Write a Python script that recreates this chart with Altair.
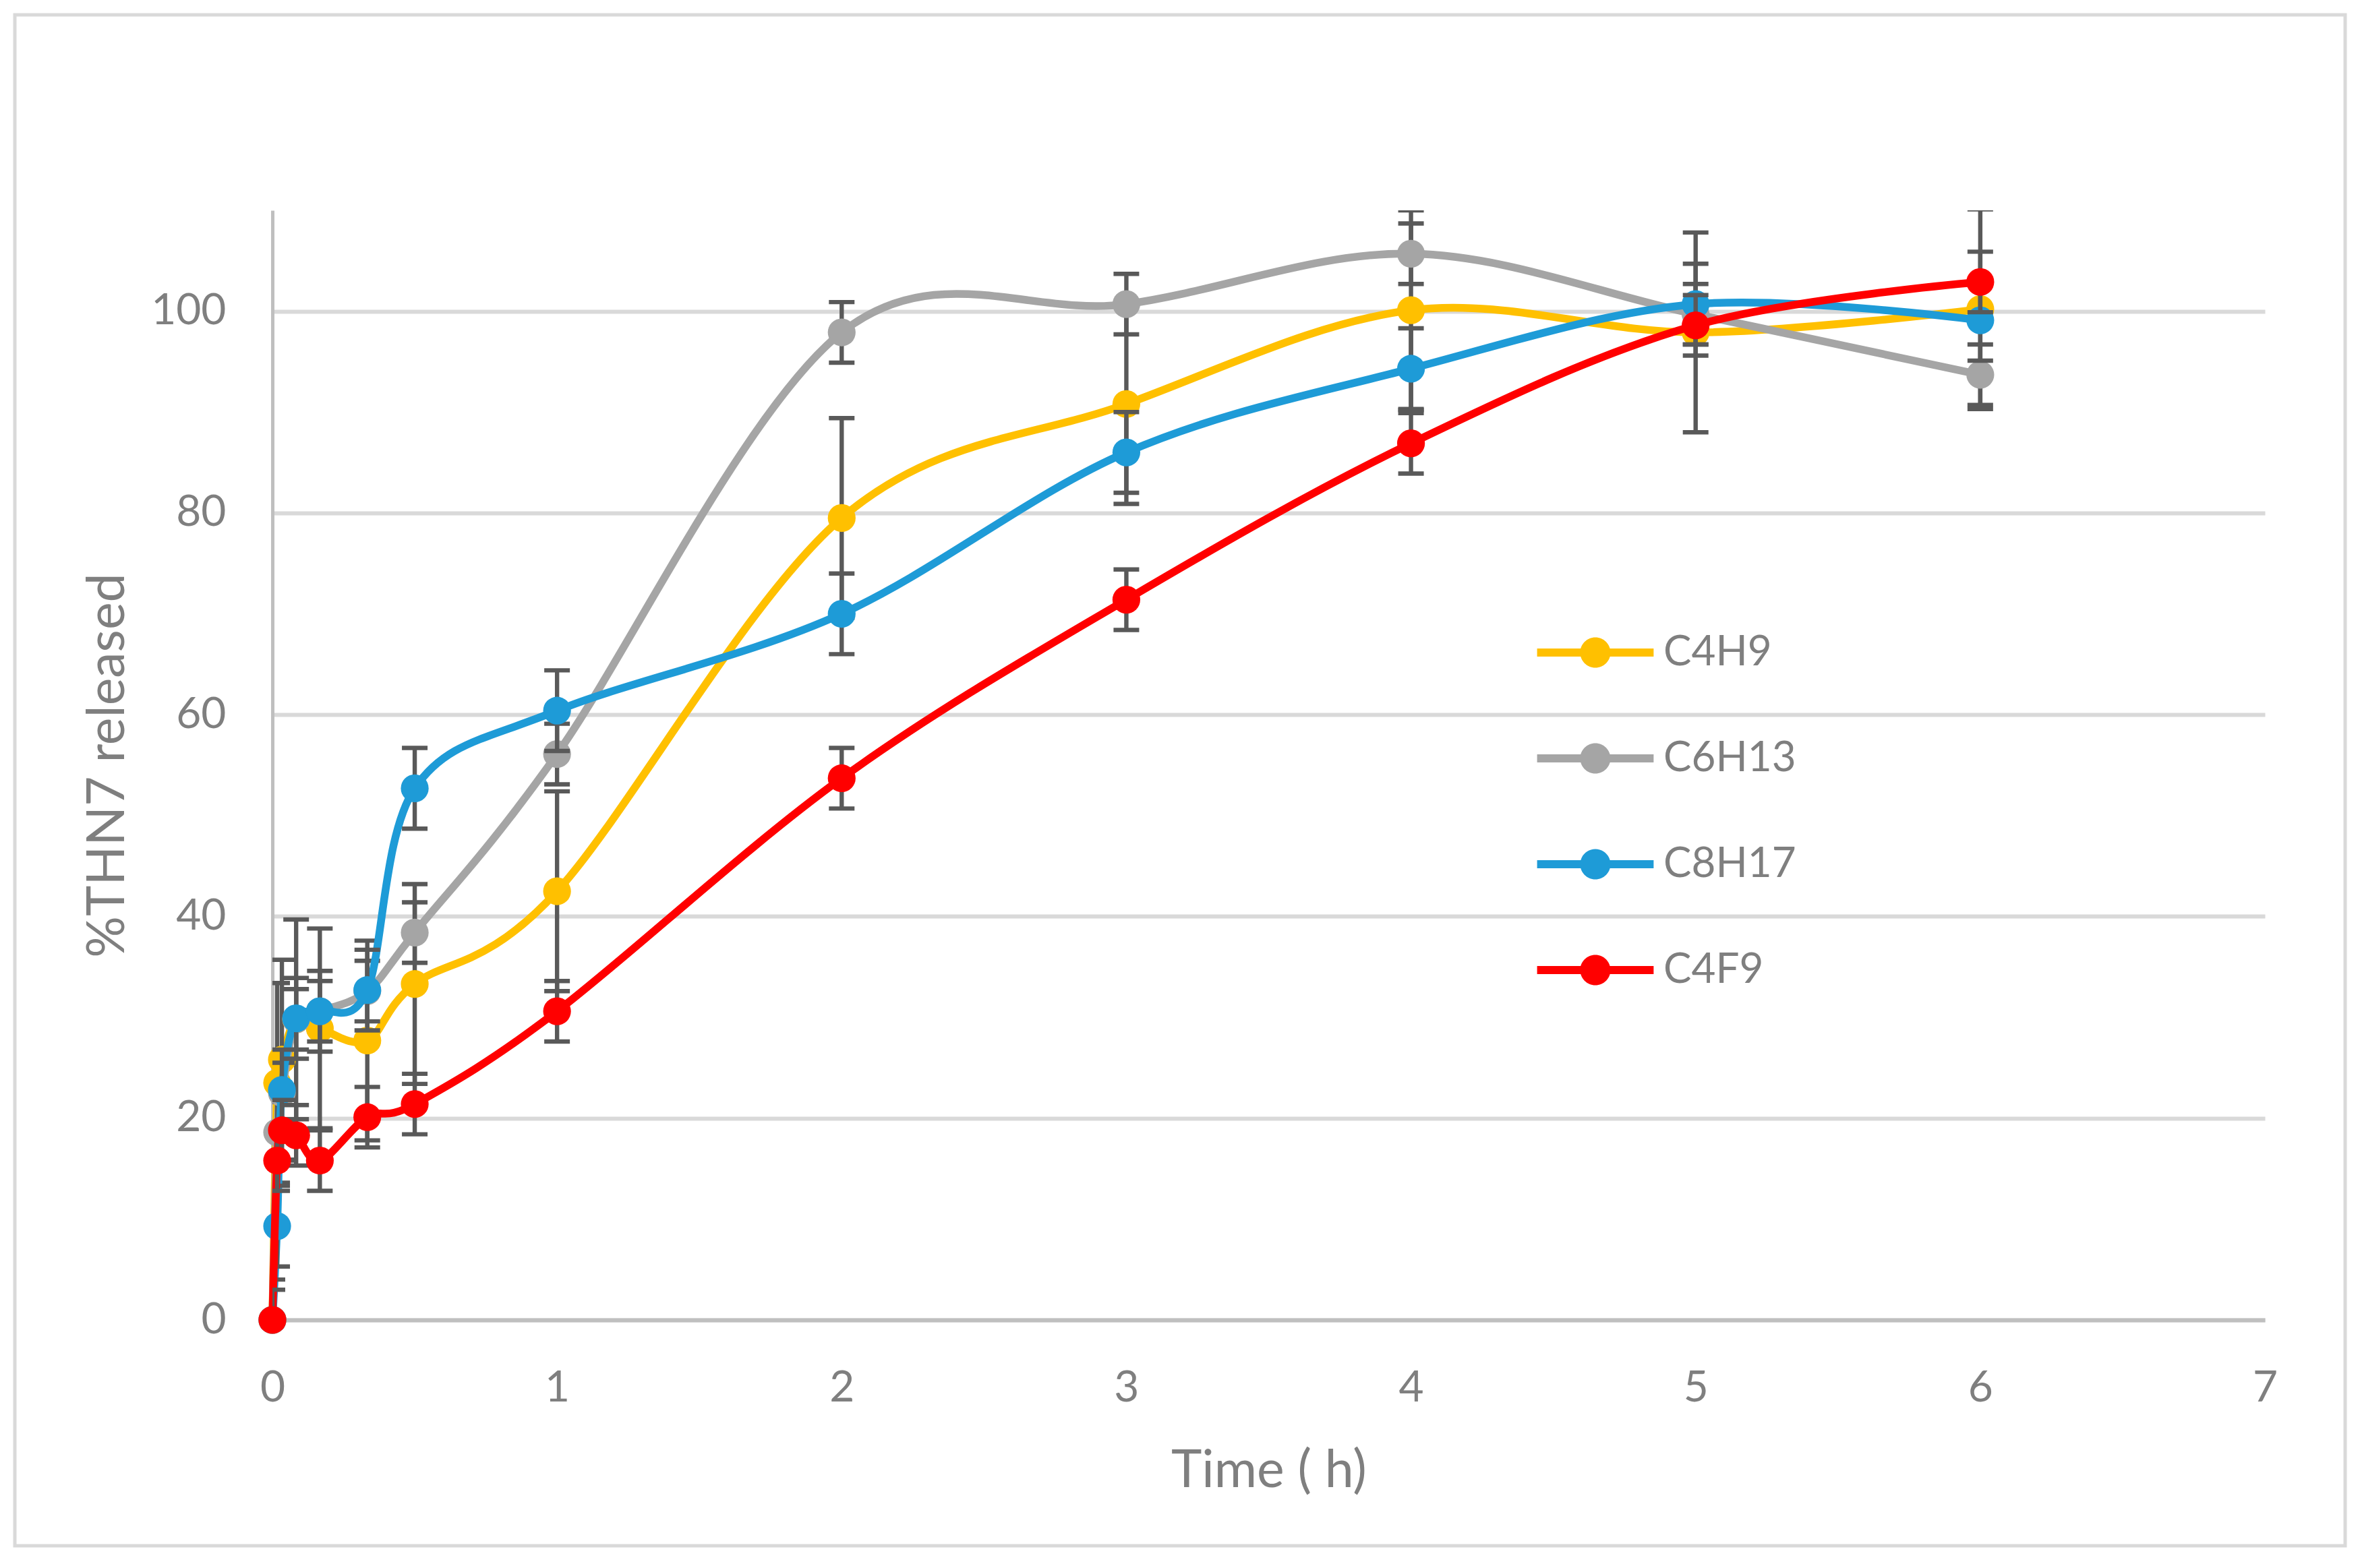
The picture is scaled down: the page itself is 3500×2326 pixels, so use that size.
import altair as alt
import pandas as pd

# ---------------- data ----------------
TIME_H = [0, 1 / 60, 2 / 60, 5 / 60, 10 / 60, 20 / 60, 0.5, 1, 2, 3, 4, 5, 6]
SERIES = ["C4H9", "C6H13", "C8H17", "C4F9"]
C4H9 = [0, 23.5, 25.8, 29.8, 28.9, 27.7, 33.3, 42.5, 79.5, 90.8, 100.1, 97.9, 100.2]
C6H13 = [0, 18.6, 22.5, 29.8, 30.6, 32.6, 38.4, 56.1, 97.9, 100.7, 105.7, 99.7, 93.7]
C8H17 = [0, 9.3, 22.8, 29.9, 30.6, 32.7, 52.7, 60.4, 70.0, 86.0, 94.3, 100.7, 99.1]
C4F9 = [0, 15.8, 18.8, 18.3, 15.8, 20.1, 21.4, 30.6, 53.7, 71.4, 86.9, 98.6, 102.9]
ERROR = [9.9, 3.0, 4.0, 3.0]          # error-bar half length per series
COLORS = ["#FFC000", "#A5A5A5", "#1E9BD7", "#FF0000"]
X_TICKS = [0, 1, 2, 3, 4, 5, 6, 7]
Y_TICKS = [0, 20, 40, 60, 80, 100]
X_TITLE = "Time ( h)"
Y_TITLE = "%THN7 released"

VALUES = [C4H9, C6H13, C8H17, C4F9]
rows = []
for name, vals, err in zip(SERIES, VALUES, ERROR):
    for t, v in zip(TIME_H, vals):
        rows.append({"t": t, "series": name, "v": v, "lo": v - err, "hi": v + err})
df = pd.DataFrame(rows)

# ---------------- styling ----------------
FONT = "Lato"
TXT = "#7F7F7F"
EB = "#595959"
W, H = 2955, 1646

xscale = alt.Scale(domain=[0, 7], nice=False, zero=False)
yscale = alt.Scale(domain=[0, 110], nice=False)

xaxis = alt.Axis(values=X_TICKS, format="d", title=X_TITLE, grid=False, ticks=False,
                 tickSize=0, labelPadding=69, labelFlush=False, domainColor="#BFBFBF",
                 domainWidth=6, titleX=W / 2, titleY=247, titleBaseline="alphabetic",
                 titleAlign="center")
yaxis = alt.Axis(values=Y_TICKS, format="d", title=Y_TITLE, grid=True, gridColor="#D9D9D9",
                 gridWidth=6, ticks=False, tickSize=0, labelPadding=69, labelFlush=False,
                 domainColor="#BFBFBF", domainWidth=5, titleX=-221, titleY=H / 2,
                 titleAngle=270, titleBaseline="alphabetic", titleAlign="center")

X = alt.X("t:Q", scale=xscale, axis=xaxis)
Y = alt.Y("v:Q", scale=yscale, axis=yaxis)
YLO = alt.Y("lo:Q", scale=yscale, axis=yaxis)
YHI = alt.Y("hi:Q", scale=yscale, axis=yaxis)

LEG_PATH = ("M-1.92,-0.133H-0.47V0.133H-1.92Z "
            "M0.47,-0.133H1.92V0.133H0.47Z "
            "M0,-0.5A0.5,0.5,0,1,1,0,0.5A0.5,0.5,0,1,1,0,-0.5Z")

legend = alt.Legend(title=None, orient="none", legendX=1917, legendY=611,
                    symbolType=LEG_PATH, symbolSize=8100, symbolStrokeWidth=0,
                    symbolOpacity=1, labelFont=FONT, labelFontSize=62, labelColor=TXT,
                    labelOffset=56, rowPadding=81, padding=0, labelLimit=600)
COLOR = alt.Color("series:N", scale=alt.Scale(domain=SERIES, range=COLORS), legend=legend)

# chart-area frame (decoration)
frame = alt.Chart(pd.DataFrame({"a": [0]})).mark_rect(
    fillOpacity=0, stroke="#D9D9D9", strokeWidth=5, clip=False
).encode(x=alt.value(-382), x2=alt.value(3074), y=alt.value(-290), y2=alt.value(1981))

layers = [frame]
base = alt.Chart(df)
for name, col in zip(SERIES, COLORS):
    b = base.transform_filter(alt.datum.series == name)
    line = b.mark_line(color=col, strokeWidth=11.5, interpolate="cardinal", tension=0,
                       strokeJoin="round", strokeCap="round").encode(x=X, y=Y)
    rule = b.mark_rule(color=EB, strokeWidth=6.4, clip=True).encode(x=X, y=YLO, y2="hi:Q")
    cap_lo = b.mark_tick(color=EB, orient="horizontal", size=38, thickness=6.4,
                         clip=True, opacity=1).encode(x=X, y=YLO)
    cap_hi = b.mark_tick(color=EB, orient="horizontal", size=38, thickness=6.4,
                         clip=True, opacity=1).encode(x=X, y=YHI)
    pts = b.mark_circle(size=1700, opacity=1).encode(x=X, y=Y, color=COLOR)
    layers += [line, rule, cap_lo, cap_hi, pts]

chart = alt.layer(*layers).properties(
    width=W, height=H,
    autosize=alt.AutoSizeParams(type="none"),
    padding={"left": 396, "top": 304, "right": 133, "bottom": 354},
    background="white",
).configure_view(stroke=None).configure_axis(
    labelFont=FONT, labelFontSize=64, labelColor=TXT,
    titleFont=FONT, titleFontSize=77, titleColor=TXT, titleFontWeight="normal",
)

chart.save("out.html", embed_options={"renderer": "svg", "actions": False})
